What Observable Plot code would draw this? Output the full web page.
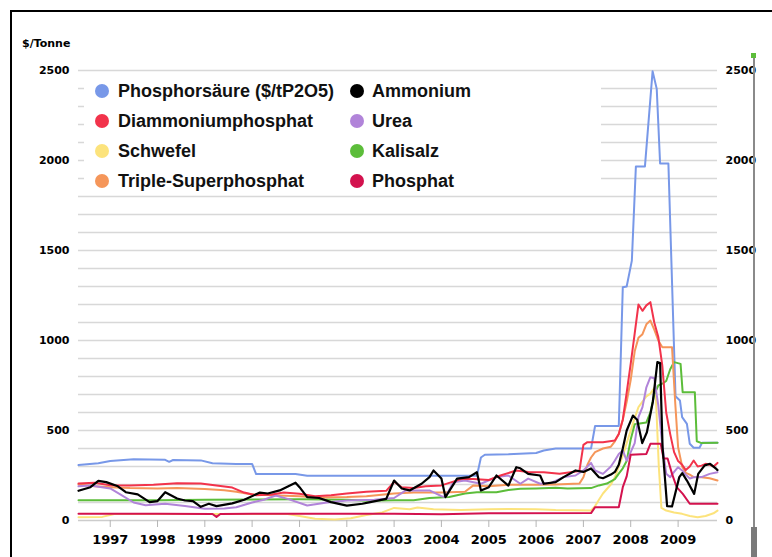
<!DOCTYPE html>
<html><head><meta charset="utf-8">
<script src="https://cdn.jsdelivr.net/npm/d3@7"></script>
<script src="https://cdn.jsdelivr.net/npm/@observablehq/plot@0.6"></script>
<style>
body{margin:0;background:#fff;}
#wrap{position:relative;width:772px;height:557px;overflow:hidden;background:#fff;}
#wrap svg{position:absolute;left:0;top:0;}
#frame{position:absolute;left:10px;top:10px;width:800px;height:600px;border-left:2px solid #000;border-top:2px solid #000;pointer-events:none;}
#unit{position:absolute;left:22px;top:37px;font:bold 11px "DejaVu Sans",sans-serif;color:#000;}
#legend{position:absolute;left:84px;top:76px;width:517px;height:115px;background:#fff;font:bold 18px "Liberation Sans",Arial,sans-serif;color:#111;}
.item{position:absolute;height:22px;line-height:22px;white-space:nowrap;}
.dot{position:absolute;top:4px;width:14px;height:14px;border-radius:50%;}
.lab{position:absolute;top:0;}
#rline{position:absolute;left:753px;top:55px;width:1.5px;height:502px;background:#8a8a8a;}
#rbar{position:absolute;left:751px;top:527px;width:6px;height:30px;background:#7a7a7a;}
#gmark{position:absolute;left:751px;top:53px;width:5px;height:5px;background:#5cbd3a;}
</style></head>
<body>
<div id="wrap"></div>
<script>
// ---- data ----
const names = ["Phosphorsäure ($/tP2O5)","Diammoniumphosphat","Schwefel","Triple-Superphosphat","Ammonium","Urea","Kalisalz","Phosphat"];
const colors = ["#7898e8","#f2334b","#fce37c","#f5965a","#000000","#b184d9","#5cbd3a","#d3124e"];
const yearLabels = [1997,1998,1999,2000,2001,2002,2003,2004,2005,2006,2007,2008,2009];
const yTicks = [0,500,1000,1500,2000,2500];

const phosphorsaeure = [["1996-05",308],["1996-10",318],["1997-01",330],["1997-07",340],["1998-03",337],["1998-04",326],["1998-05",336],["1998-12",334],["1999-03",318],["1999-09",314],["2000-01",314],["2000-02",258],["2000-12",258],["2001-03",249],["2004-10",248],["2004-11",350],["2004-12",365],["2005-06",368],["2006-01",375],["2006-03",389],["2006-06",400],["2007-03",400],["2007-04",525],["2007-10",525],["2007-11",1296],["2007-12",1300],["2008-01-10",1444],["2008-02-10",1967],["2008-04-20",1967],["2008-06-18",2496],["2008-07-20",2398],["2008-08-15",1983],["2008-10-18",1983],["2008-12-12",690],["2009-01-15",667],["2009-02-01",574],["2009-03-10",537],["2009-04-01",426],["2009-05-01",404],["2009-06-15",404],["2009-07-05",432],["2009-11-01",432]];
const diammoniumphosphat = [["1996-05",205],["1996-09",210],["1997-01",196],["1997-06",195],["1997-12",198],["1998-06",207],["1998-12",205],["1999-04",195],["1999-08",183],["1999-11",155],["2000-02",140],["2000-06",145],["2000-09",155],["2001-01",148],["2001-05",135],["2001-09",140],["2002-01",150],["2002-06",160],["2002-11",165],["2003-01",215],["2003-03",185],["2003-06",180],["2003-09",190],["2004-01",195],["2004-06",230],["2004-09",230],["2005-01",225],["2005-04",250],["2005-08",278],["2005-11",270],["2006-03",268],["2006-07",260],["2006-12",275],["2007-01",420],["2007-02",435],["2007-06",435],["2007-09",444],["2007-10",481],["2007-11",560],["2007-12",710],["2008-01",870],["2008-02",1040],["2008-03",1200],["2008-04",1165],["2008-05",1195],["2008-06",1213],["2008-07",1100],["2008-08",1020],["2008-09",860],["2008-10",600],["2008-11",480],["2008-12",380],["2009-01",330],["2009-02",310],["2009-03",280],["2009-04",300],["2009-05",333],["2009-06",300],["2009-07",305],["2009-08",315],["2009-09",310],["2009-10",300],["2009-11",320]];
const schwefel = [["1996-05",18],["1996-11",20],["1997-02",36],["2000-10",36],["2001-01",25],["2001-05",10],["2001-10",6],["2002-02",12],["2002-06",30],["2002-10",45],["2003-01",70],["2003-05",62],["2003-07",72],["2003-11",62],["2004-06",58],["2005-01",62],["2005-06",64],["2006-01",62],["2006-06",58],["2007-03",56],["2007-04",80],["2007-05",115],["2007-06",150],["2007-07",175],["2007-08",200],["2007-09",240],["2007-10",300],["2007-11",360],["2007-12",430],["2008-01",500],["2008-02",570],["2008-03",630],["2008-04",660],["2008-05",690],["2008-06",705],["2008-07-10",745],["2008-08-05",300],["2008-08-25",70],["2008-10",55],["2008-12",45],["2009-02",37],["2009-04",25],["2009-06",18],["2009-08",25],["2009-10",40],["2009-11",55]];
const tripleSuperphosphat = [["1996-05",200],["1996-09",190],["1997-01",185],["1997-06",180],["1998-01",178],["1998-06",180],["1999-01",175],["1999-06",168],["1999-09",160],["2000-01",145],["2000-06",140],["2001-01",135],["2001-06",128],["2002-01",130],["2002-06",135],["2003-01",150],["2003-06",155],["2004-01",155],["2004-07",160],["2004-09",194],["2005-01",190],["2005-06",198],["2006-01",198],["2006-06",200],["2006-12",205],["2007-01",240],["2007-02",310],["2007-03",350],["2007-04",380],["2007-06",400],["2007-08",410],["2007-09",440],["2007-10",480],["2007-11",560],["2007-12",660],["2008-01",780],["2008-02",940],["2008-03",1015],["2008-04",1035],["2008-05",1090],["2008-06",1111],["2008-07",1060],["2008-08",1000],["2008-09",963],["2008-11-15",963],["2008-12-10",650],["2009-01-01",407],["2009-02",300],["2009-03",265],["2009-04",255],["2009-05",241],["2009-07",240],["2009-09",235],["2009-11",222]];
const ammonium = [["1996-05",165],["1996-08",185],["1996-10",220],["1996-12",213],["1997-03",190],["1997-05",157],["1997-08",145],["1997-11",102],["1998-01",108],["1998-03",157],["1998-06",122],["1998-08",111],["1998-10",108],["1998-12",76],["1999-02",93],["1999-04",80],["1999-08",95],["1999-11",115],["2000-03",155],["2000-05",150],["2000-08",167],["2000-12",210],["2001-01",185],["2001-03",130],["2001-06",125],["2001-09",102],["2002-01",83],["2002-05",93],["2002-07",102],["2002-11",120],["2003-01",222],["2003-03",178],["2003-05",167],["2003-08",204],["2003-10",241],["2003-11",278],["2004-01",233],["2004-02",130],["2004-05",233],["2004-08",241],["2004-10",268],["2004-11",167],["2005-01",185],["2005-03",250],["2005-06",194],["2005-08",296],["2005-09",290],["2005-11",259],["2006-02",250],["2006-03",204],["2006-06",213],["2006-08",241],["2006-11",278],["2007-01",270],["2007-03",289],["2007-05",240],["2007-06",235],["2007-08",255],["2007-09",270],["2007-10",310],["2007-11",400],["2007-12",500],["2008-01-18",583],["2008-02-20",560],["2008-03-30",430],["2008-05-05",490],["2008-06-20",660],["2008-07-25",880],["2008-08-15",875],["2008-09-03",407],["2008-10-08",80],["2008-11-15",78],["2009-01-10",241],["2009-02-02",263],["2009-03-10",222],["2009-05-05",148],["2009-06-05",259],["2009-07-25",306],["2009-09-05",315],["2009-10-25",285],["2009-11-01",280]];
const urea = [["1996-05",190],["1996-08",195],["1997-01",178],["1997-04",140],["1997-07",100],["1997-10",85],["1998-03",93],["1998-08",80],["1999-01",65],["1999-06",67],["1999-09",74],["2000-01",100],["2000-04",115],["2000-07",139],["2000-10",120],["2001-03",83],["2001-08",100],["2002-01",111],["2002-08",115],["2003-01",125],["2003-04",167],["2003-10",167],["2004-01",135],["2004-02",130],["2004-04",213],["2004-07",222],["2004-11",204],["2005-03",241],["2005-06",250],["2005-09",204],["2005-11",233],["2006-02",204],["2006-05",210],["2006-08",241],["2006-11",250],["2007-01",278],["2007-03",320],["2007-04",278],["2007-06",259],["2007-08",300],["2007-09",333],["2007-10",370],["2007-11",389],["2007-12",333],["2008-01",380],["2008-02",430],["2008-03",574],["2008-04",630],["2008-05",740],["2008-06",796],["2008-07",790],["2008-08",640],["2008-09",420],["2008-10",260],["2008-11",241],["2008-12",270],["2009-01",296],["2009-02",278],["2009-03",255],["2009-04",233],["2009-05",240],["2009-07",241],["2009-09",259],["2009-11",268]];
const kalisalz = [["1996-05",112],["1998-01",112],["1999-01",115],["2001-01",118],["2002-01",115],["2002-06",110],["2003-01",112],["2003-06",112],["2003-10",125],["2004-03",130],["2004-07",150],["2004-10",157],["2005-03",157],["2005-06",170],["2005-09",176],["2006-01",178],["2006-06",182],["2006-09",178],["2007-03",180],["2007-05",195],["2007-07",205],["2007-09",230],["2007-10",260],["2007-11",290],["2007-12",330],["2008-01",450],["2008-02",535],["2008-05",545],["2008-06",600],["2008-07",700],["2008-08",750],["2008-09",760],["2008-10",775],["2008-11",840],["2008-12",880],["2009-01-20",870],["2009-02-05",713],["2009-05-10",713],["2009-05-25",440],["2009-07",430],["2009-11",432]];
const phosphat = [["1996-05",38],["1998-01",37],["1999-03",36],["1999-04",20],["1999-05",36],["2000-01",37],["2003-01",38],["2004-01",35],["2004-07",38],["2005-01",40],["2007-03",41],["2007-04",74],["2007-10",74],["2007-11",185],["2007-12",245],["2008-01",365],["2008-05",370],["2008-06",426],["2008-08-20",426],["2008-09-10",345],["2008-10-12",344],["2008-11-15",259],["2008-12-21",185],["2009-02-06",148],["2009-04-01",93],["2009-11-01",93]];

const seriesData = [phosphorsaeure, diammoniumphosphat, schwefel, tripleSuperphosphat, ammonium, urea, kalisalz, phosphat];
const drawOrder = [0, 2, 6, 3, 5, 7, 1, 4];

// ---- chart ----
const parse = s => new Date(s.length === 7 ? s + "-01" : s);
const lineMarks = drawOrder.map(i => Plot.line(seriesData[i], {
  x: d => parse(d[0]), y: d => d[1], stroke: colors[i], strokeWidth: i === 4 ? 2.2 : 2
}));

const chart = Plot.plot({
  width: 772, height: 557,
  marginLeft: 78, marginRight: 55, marginTop: 70, marginBottom: 37,
  style: {background: "transparent", fontFamily: "DejaVu Sans", fontWeight: "bold", color: "#000", overflow: "visible"},
  x: {type: "utc", domain: [new Date("1996-05-01"), new Date("2009-11-01")]},
  y: {domain: [0, 2500]},
  marks: [
    Plot.gridY(d3.range(100, 2600, 100), {stroke: "#d8d8d8", strokeOpacity: 1, strokeWidth: 1.4}),
    Plot.ruleY([0], {stroke: "#cccccc", strokeWidth: 1.5}),
    Plot.axisX(yearLabels.map(y => new Date(Date.UTC(y, 0, 1))), {
      tickSize: 7, tickPadding: 7, stroke: "#b5b5b5", fill: "#000", fontSize: 13,
      tickFormat: d => String(d.getUTCFullYear()), label: null
    }),
    Plot.axisY(yTicks, {anchor: "left", tickSize: 0, tickPadding: 9, fontSize: 11, tickFormat: d => String(d), label: null}),
    Plot.axisY(yTicks, {anchor: "right", tickSize: 0, tickPadding: 8, fontSize: 11, tickFormat: d => String(d), label: null}),
    ...lineMarks
  ]
});

const wrap = document.getElementById("wrap");
wrap.appendChild(chart);

// legend
const legend = document.createElement("div");
legend.id = "legend";
names.forEach((n, i) => {
  const col = i < 4 ? 0 : 1, row = i % 4;
  const item = document.createElement("div");
  item.className = "item";
  item.style.left = (col ? 266 : 11) + "px";
  item.style.top = (row * 30.2 + 3.5) + "px";
  const dot = document.createElement("span");
  dot.className = "dot"; dot.style.left = "0px"; dot.style.background = colors[i];
  const lab = document.createElement("span");
  lab.className = "lab"; lab.style.left = (col ? 22 : 23) + "px"; lab.textContent = n;
  item.appendChild(dot); item.appendChild(lab);
  legend.appendChild(item);
});
wrap.appendChild(legend);

const unit = document.createElement("div");
unit.id = "unit"; unit.textContent = "$/Tonne";
wrap.appendChild(unit);
["rline","rbar","gmark","frame"].forEach(id => { const d = document.createElement("div"); d.id = id; wrap.appendChild(d); });
</script>
</body></html>
